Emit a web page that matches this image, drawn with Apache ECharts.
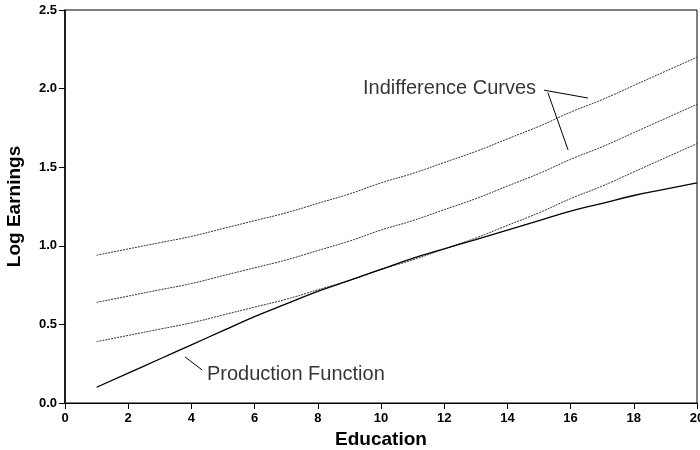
<!DOCTYPE html>
<html>
<head>
<meta charset="utf-8">
<script src="https://cdn.jsdelivr.net/npm/echarts@6/dist/echarts.min.js"></script>
<style>
  html, body { margin: 0; padding: 0; background: #fff; }
  #chart { width: 700px; height: 450px; }
</style>
</head>
<body>
<div id="chart"></div>
<script>
// years of education
const education = [1, 2, 3, 4, 5, 6, 7, 8, 9, 10, 11, 12, 13, 14, 15, 16, 17, 18, 19, 20];

// indifference curves (top, middle, bottom)
const indiffHigh = [0.94, 0.98, 1.02, 1.06, 1.11, 1.16, 1.21, 1.27, 1.33, 1.40, 1.46, 1.53, 1.60, 1.68, 1.76, 1.85, 1.93, 2.02, 2.11, 2.20];
const indiffMid  = [0.64, 0.68, 0.72, 0.76, 0.81, 0.86, 0.91, 0.97, 1.03, 1.10, 1.16, 1.23, 1.30, 1.38, 1.46, 1.55, 1.63, 1.72, 1.81, 1.90];
const indiffLow  = [0.39, 0.43, 0.47, 0.51, 0.56, 0.61, 0.66, 0.72, 0.78, 0.85, 0.91, 0.98, 1.05, 1.13, 1.21, 1.30, 1.38, 1.47, 1.56, 1.65];

// production function
const production = [0.10, 0.19, 0.28, 0.37, 0.46, 0.55, 0.63, 0.71, 0.78, 0.85, 0.92, 0.98, 1.04, 1.10, 1.16, 1.22, 1.27, 1.32, 1.36, 1.40];

// annotation leader lines [x1, y1, x2, y2] in data units
const leaderLines = [
  [15.16, 1.99, 16.55, 1.94],
  [15.28, 1.975, 15.92, 1.61],
  [3.80, 0.293, 4.34, 0.21]
];
// annotation labels [x, y, text]
const annotations = [
  [9.43, 2.0, "Indifference Curves"],
  [4.49, 0.18, "Production Function"]
];

const pairs = (ys) => education.map((x, i) => [x, ys[i]]);

let myChart = echarts.init(document.getElementById("chart"));

const fontFamily = "Liberation Sans, Arial, sans-serif";
const dotted = { color: "#333", width: 1, type: [2, 1] };

let option = {
  animation: false,
  backgroundColor: "#fff",
  grid: {
    left: 65,
    right: 3,
    top: 10,
    bottom: 47,
    outerBoundsMode: "none",
    containLabel: false,
    show: true,
    borderColor: "#000",
    borderWidth: 1,
  },
  xAxis: {
    type: "value",
    min: 0,
    max: 20,
    interval: 2,
    name: "Education",
    nameLocation: "middle",
    nameGap: 26,
    nameTextStyle: { fontFamily: fontFamily, fontWeight: "bold", fontSize: 19, color: "#000" },
    axisLine: { show: true, lineStyle: { color: "#000", width: 1 } },
    axisTick: { show: true, length: 6, lineStyle: { color: "#000" } },
    axisLabel: { fontFamily: fontFamily, fontWeight: "bold", fontSize: 13, color: "#000", margin: 9 },
    splitLine: { show: false },
  },
  yAxis: {
    type: "value",
    min: 0,
    max: 2.5,
    interval: 0.5,
    name: "Log Earnings",
    nameLocation: "middle",
    nameGap: 41,
    nameRotate: 90,
    nameTextStyle: { fontFamily: fontFamily, fontWeight: "bold", fontSize: 19, color: "#000" },
    axisLine: { show: true, lineStyle: { color: "#000", width: 1.5 } },
    axisTick: { show: true, length: 6, lineStyle: { color: "#000" } },
    axisLabel: {
      fontFamily: fontFamily, fontWeight: "bold", fontSize: 13, color: "#000", margin: 8,
      formatter: (v) => v.toFixed(1),
    },
    splitLine: { show: false },
  },
  series: [
    { type: "line", data: pairs(indiffHigh), symbol: "none", smooth: true, lineStyle: dotted },
    { type: "line", data: pairs(indiffMid), symbol: "none", smooth: true, lineStyle: dotted },
    { type: "line", data: pairs(indiffLow), symbol: "none", smooth: true, lineStyle: dotted },
    {
      type: "line",
      data: pairs(production),
      symbol: "none",
      smooth: true,
      lineStyle: { color: "#000", width: 1.3 },
      markLine: {
        silent: true,
        symbol: ["none", "none"],
        label: { show: false },
        lineStyle: { color: "#000", width: 1, type: "solid" },
        data: leaderLines.map((l) => [{ coord: [l[0], l[1]] }, { coord: [l[2], l[3]] }]),
      },
    },
    {
      type: "scatter",
      symbolSize: 0,
      data: annotations.map((a) => ({ value: [a[0], a[1]], name: a[2] })),
      label: {
        show: true,
        position: "right",
        distance: 0,
        formatter: (p) => p.name,
        fontFamily: fontFamily,
        fontSize: 20,
        color: "#000",
      },
    },
  ],
};

myChart.setOption(option);
</script>
</body>
</html>
